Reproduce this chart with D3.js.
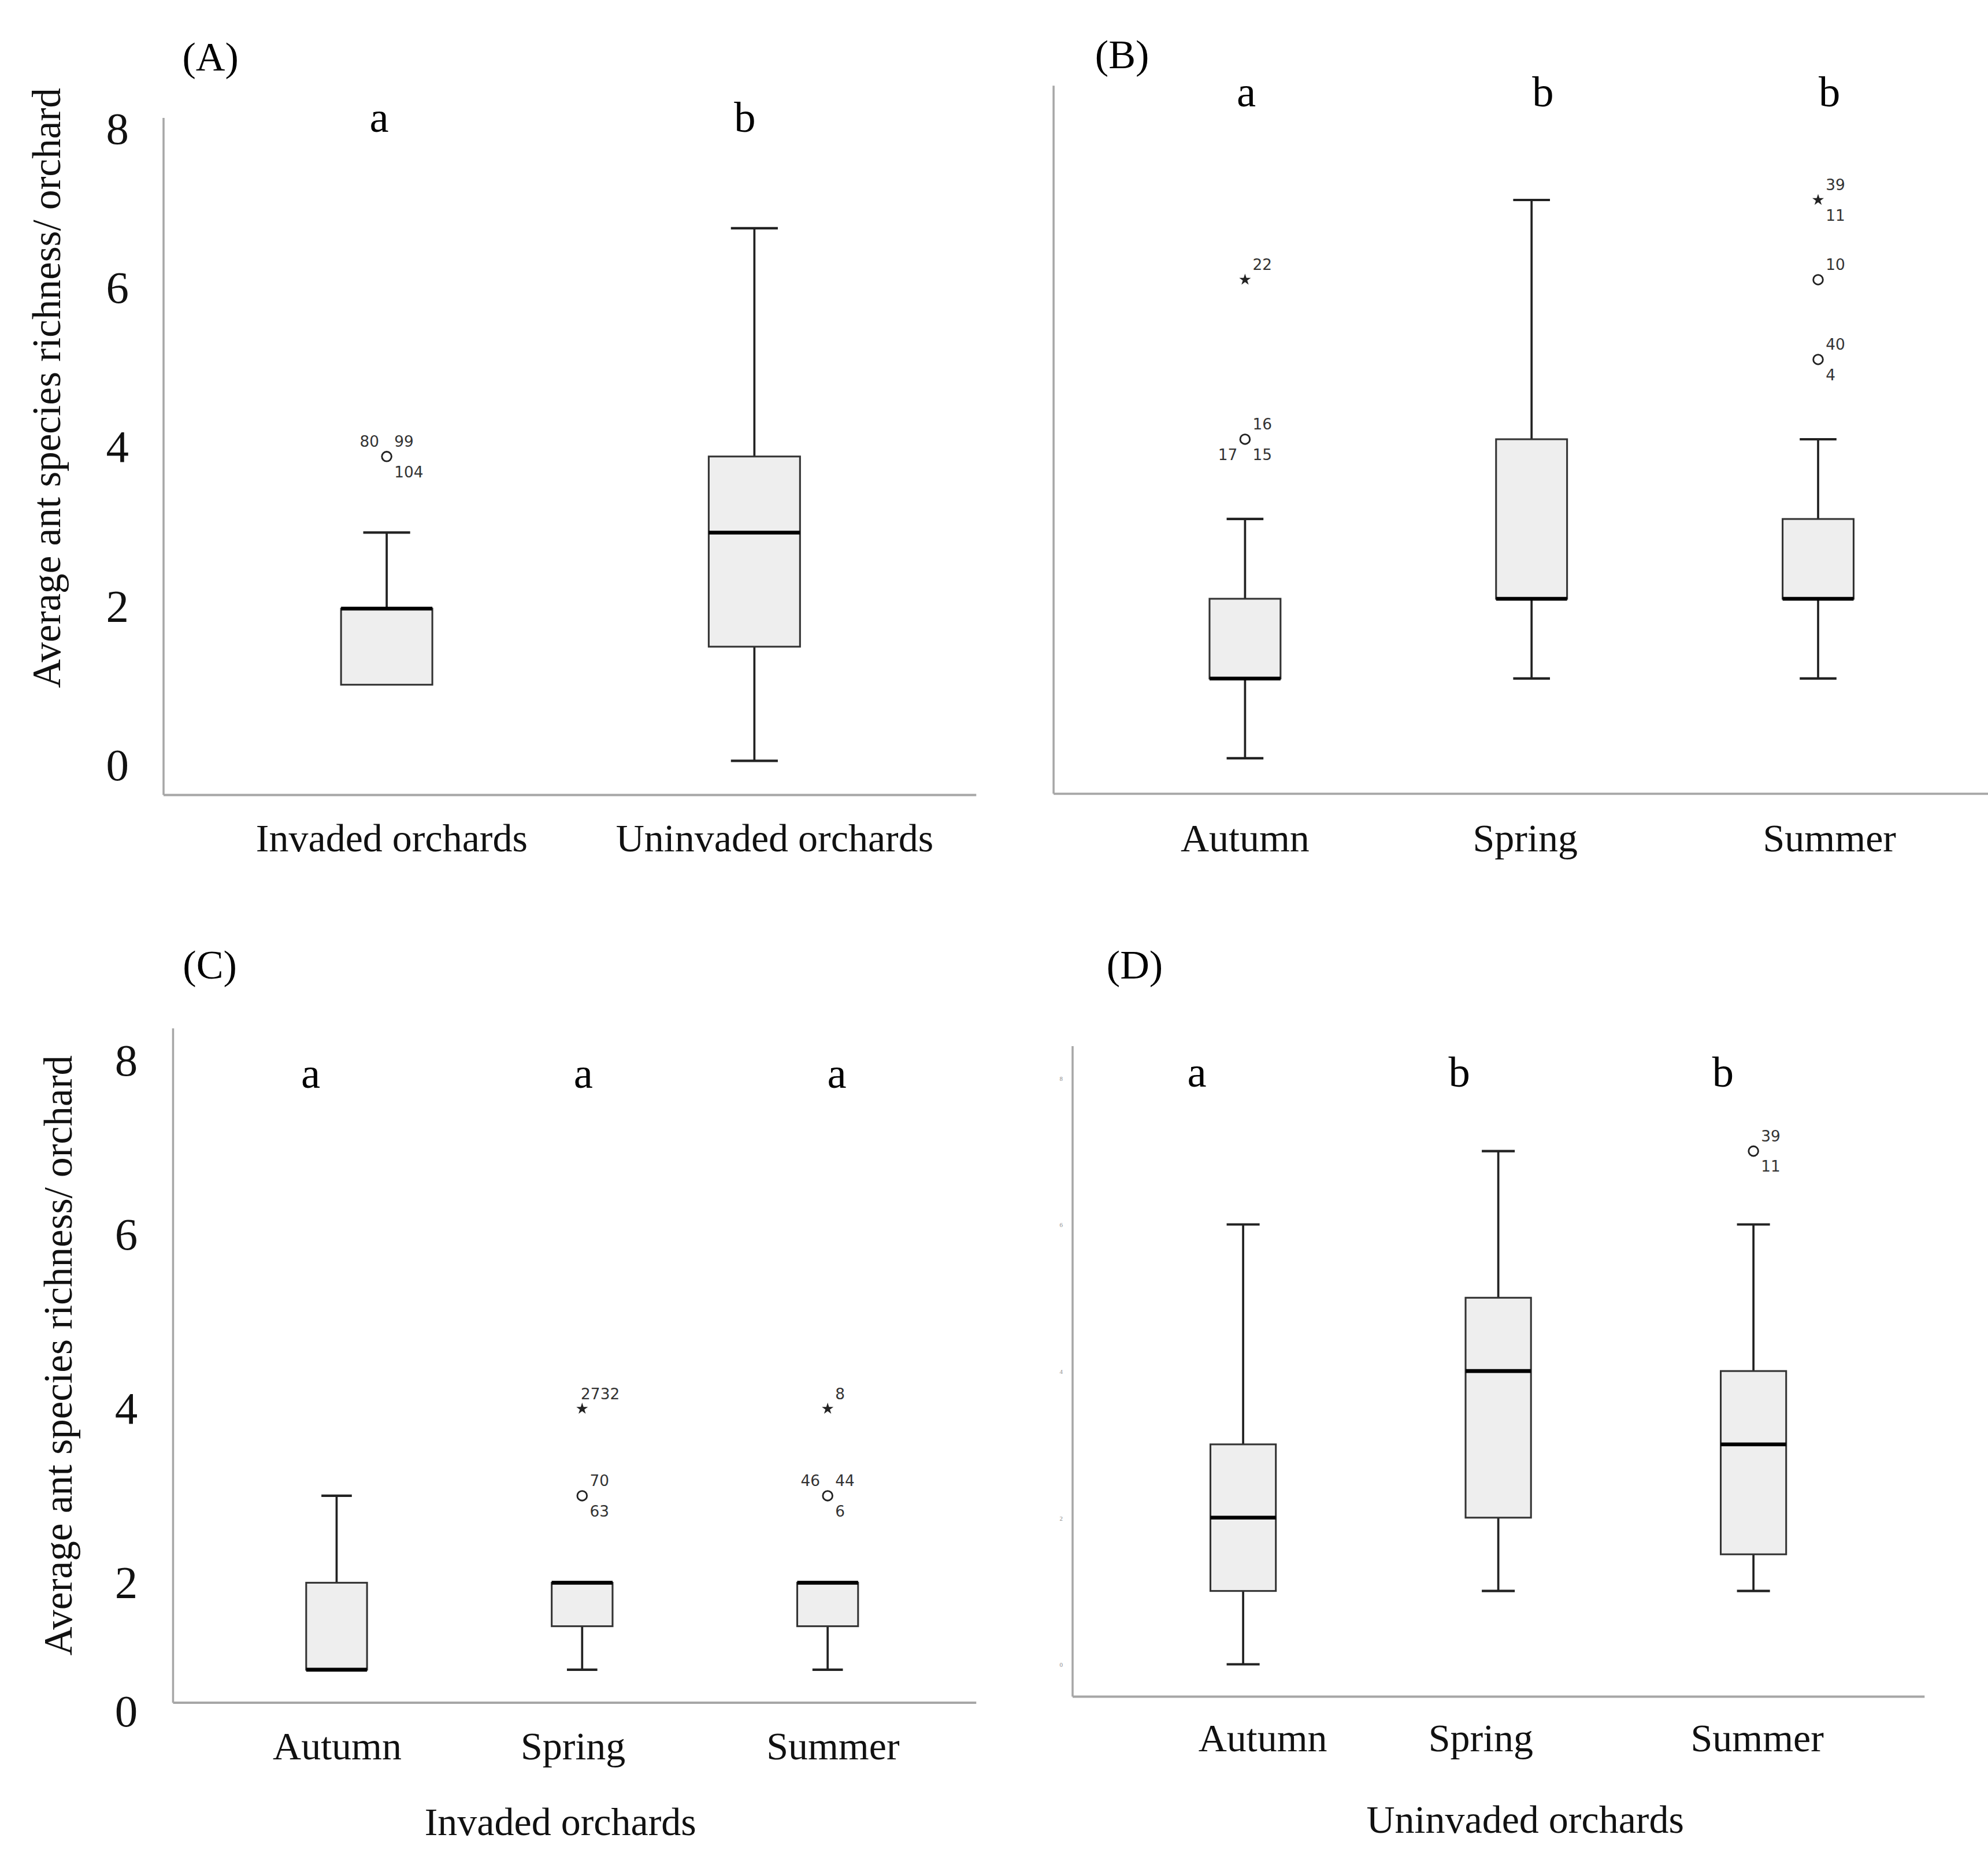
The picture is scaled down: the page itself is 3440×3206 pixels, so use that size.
<!DOCTYPE html>
<html>
<head>
<meta charset="utf-8">
<script src="https://cdn.jsdelivr.net/npm/d3@7"></script>
<style>
  body { margin: 0; background: #fff; }
  svg { display: block; }
</style>
</head>
<body>
<div id="chart"></div>
<script>

// ---- data ----
const orchardTypes = ["Invaded orchards", "Uninvaded orchards"]
const seasons = ["Autumn", "Spring", "Summer"]
const yTicks = [0, 2, 4, 6, 8]

// (A) invaded vs uninvaded
const aLow = [1, 0]
const aQ1 = [1, 1.5]
const aMedian = [2, 3]
const aQ3 = [2, 4]
const aHigh = [3, 7]
const aLetters = ["a", "b"]
const aOutliers = [
  { group: "Invaded orchards", value: 4, shape: "circle", ids: ["80", "99", "104"] }
]

// (B) all orchards by season
const bLow = [0, 1, 1]
const bQ1 = [1, 2, 2]
const bMedian = [1, 2, 2]
const bQ3 = [2, 4, 3]
const bHigh = [3, 7, 4]
const bLetters = ["a", "b", "b"]
const bOutliers = [
  { group: "Autumn", value: 4, shape: "circle", ids: ["16", "17", "15"] },
  { group: "Autumn", value: 6, shape: "star", ids: ["22"] },
  { group: "Summer", value: 5, shape: "circle", ids: ["40", "4"] },
  { group: "Summer", value: 6, shape: "circle", ids: ["10"] },
  { group: "Summer", value: 7, shape: "star", ids: ["39", "11"] }
]

// (C) invaded orchards by season
const cLow = [1, 1, 1]
const cQ1 = [1, 1.5, 1.5]
const cMedian = [1, 2, 2]
const cQ3 = [2, 2, 2]
const cHigh = [3, 2, 2]
const cLetters = ["a", "a", "a"]
const cOutliers = [
  { group: "Spring", value: 3, shape: "circle", ids: ["70", "63"] },
  { group: "Spring", value: 4, shape: "star", ids: ["27", "32"] },
  { group: "Summer", value: 3, shape: "circle", ids: ["46", "44", "6"] },
  { group: "Summer", value: 4, shape: "star", ids: ["8"] }
]

// (D) uninvaded orchards by season
const dLow = [0, 1, 1]
const dQ1 = [1, 2, 1.5]
const dMedian = [2, 4, 3]
const dQ3 = [3, 5, 4]
const dHigh = [6, 7, 6]
const dLetters = ["a", "b", "b"]
const dOutliers = [
  { group: "Summer", value: 7, shape: "circle", ids: ["39", "11"] }
]

// ---- layout (units of a 1568 wide frame, scaled to the page) ----
const W = 1568
const H = 3206 / (3440 / W)

const spots = {
  ur: { dx: 6, dy: -12, anchor: "start" },
  lr: { dx: 6, dy: 12, anchor: "start" },
  ul: { dx: -6, dy: -12, anchor: "end" },
  ll: { dx: -6, dy: 12, anchor: "end" },
  u: { dx: -1, dy: -12, anchor: "start" },
  u2: { dx: 14.3, dy: -12, anchor: "start" }
}

const panels = [
  {
    tag: "(A)", cats: orchardTypes,
    low: aLow, q1: aQ1, median: aMedian, q3: aQ3, high: aHigh,
    letters: aLetters, outliers: aOutliers,
    spots: [["ul", "ur", "lr"]],
    x0: 129, x1: 770, top: 93, bottom: 627,
    boxRange: [305, 595], boxW: 72, capW: 37,
    yRange: [600, 120], tickRange: [603, 101], tickX: 92.6, tickSize: 36,
    letterX: [299, 587.5], letterY: 97,
    labelX: [309, 611], labelY: 662,
    tagX: 166, tagY: 45,
    yTitle: true, yTitleX: 38, yTitleY: 306
  },
  {
    tag: "(B)", cats: seasons,
    low: bLow, q1: bQ1, median: bMedian, q3: bQ3, high: bHigh,
    letters: bLetters, outliers: bOutliers,
    spots: [["ur", "ll", "lr"], ["ur"], ["ur", "lr"], ["ur"], ["ur", "lr"]],
    x0: 831, x1: 1568, top: 67.6, bottom: 626,
    boxRange: [982, 1434], boxW: 56, capW: 29,
    yRange: [598, 94.8], tickX: null,
    letterX: [983, 1217, 1443], letterY: 77,
    labelX: [982, 1203, 1443], labelY: 662,
    tagX: 885, tagY: 43
  },
  {
    tag: "(C)", cats: seasons,
    low: cLow, q1: cQ1, median: cMedian, q3: cQ3, high: cHigh,
    letters: cLetters, outliers: cOutliers,
    spots: [["ur", "lr"], ["u", "u2"], ["ul", "ur", "lr"], ["ur"]],
    x0: 136.5, x1: 770, top: 811, bottom: 1342.8,
    boxRange: [265.5, 652.8], boxW: 48, capW: 24,
    yRange: [1385.4, 836.6], tickX: 99.6, tickSize: 36, tickClamp: true,
    letterX: [245, 460, 660], letterY: 851,
    labelX: [266, 452, 657], labelY: 1378,
    tagX: 165.5, tagY: 761,
    yTitle: true, yTitleX: 47, yTitleY: 1069,
    subtitle: "Invaded orchards", subX: 442, subY: 1438
  },
  {
    tag: "(D)", cats: seasons,
    low: dLow, q1: dQ1, median: dMedian, q3: dQ3, high: dHigh,
    letters: dLetters, outliers: dOutliers,
    spots: [["ur", "lr"]],
    x0: 846, x1: 1518, top: 825, bottom: 1338,
    boxRange: [980.5, 1383], boxW: 51.6, capW: 26,
    yRange: [1312.5, 850], tickX: 837, tickSize: 5, tickFaint: true,
    letterX: [944, 1151, 1359], letterY: 850,
    labelX: [996, 1168, 1386], labelY: 1372,
    tagX: 895, tagY: 761,
    subtitle: "Uninvaded orchards", subX: 1203, subY: 1436
  }
]

const serif = "'Liberation Serif', 'Times New Roman', serif"

const svg = d3.select("#chart")
  .append("svg")
    .attr("width", 3440)
    .attr("height", 3206)
    .attr("viewBox", `0 0 ${W} ${H}`)

svg.append("rect")
    .attr("width", W)
    .attr("height", H)
    .attr("fill", "#fff")

panels.forEach(drawPanel)

function drawPanel(p) {
  const g = svg.append("g")

  const x = d3.scalePoint().domain(p.cats).range(p.boxRange)
  const y = d3.scaleLinear().domain([0, 8]).range(p.yRange)
  const letterX = d3.scaleOrdinal().domain(p.cats).range(p.letterX)
  const labelX = d3.scaleOrdinal().domain(p.cats).range(p.labelX)

  // axis lines
  g.append("line")
      .attr("x1", p.x0).attr("x2", p.x0)
      .attr("y1", p.top).attr("y2", p.bottom)
      .attr("stroke", "#a6a6a6")
      .attr("stroke-width", 1.6)
  g.append("line")
      .attr("x1", p.x0).attr("x2", p.x1)
      .attr("y1", p.bottom).attr("y2", p.bottom)
      .attr("stroke", "#a6a6a6")
      .attr("stroke-width", 1.8)

  // tick labels
  if (p.tickX !== null) {
    const tickScale = p.tickRange ? d3.scaleLinear().domain([0, 8]).range(p.tickRange) : y
    const axis = g.append("g")
        .attr("transform", `translate(${p.tickX},0)`)
        .call(d3.axisLeft(tickScale).tickValues(yTicks).tickSize(0).tickPadding(0))
    axis.select(".domain").remove()
    if (p.tickClamp) {
      axis.selectAll(".tick")
          .attr("transform", d => `translate(0,${Math.min(tickScale(d), p.bottom + 6.8)})`)
    }
    axis.selectAll("text")
        .attr("x", 0)
        .attr("dy", "0.33em")
        .attr("text-anchor", "middle")
        .attr("font-family", serif)
        .attr("font-size", p.tickSize)
        .attr("fill", p.tickFaint ? "#8a8a8a" : "#111")
  }

  // boxes
  const rows = p.cats.map((c, i) => ({
    cat: c, low: p.low[i], q1: p.q1[i], median: p.median[i], q3: p.q3[i], high: p.high[i]
  }))

  const box = g.selectAll(".box")
    .data(rows)
    .enter().append("g")
      .attr("class", "box")

  box.filter(d => d.high > d.q3).append("line")
      .attr("x1", d => x(d.cat)).attr("x2", d => x(d.cat))
      .attr("y1", d => y(d.q3)).attr("y2", d => y(d.high))
      .attr("stroke", "#222").attr("stroke-width", 1.7)
  box.filter(d => d.high > d.q3).append("line")
      .attr("x1", d => x(d.cat) - p.capW / 2).attr("x2", d => x(d.cat) + p.capW / 2)
      .attr("y1", d => y(d.high)).attr("y2", d => y(d.high))
      .attr("stroke", "#222").attr("stroke-width", 1.9)
  box.filter(d => d.low < d.q1).append("line")
      .attr("x1", d => x(d.cat)).attr("x2", d => x(d.cat))
      .attr("y1", d => y(d.q1)).attr("y2", d => y(d.low))
      .attr("stroke", "#222").attr("stroke-width", 1.7)
  box.filter(d => d.low < d.q1).append("line")
      .attr("x1", d => x(d.cat) - p.capW / 2).attr("x2", d => x(d.cat) + p.capW / 2)
      .attr("y1", d => y(d.low)).attr("y2", d => y(d.low))
      .attr("stroke", "#222").attr("stroke-width", 1.9)

  box.append("rect")
      .attr("x", d => x(d.cat) - p.boxW / 2)
      .attr("y", d => y(d.q3))
      .attr("width", p.boxW)
      .attr("height", d => y(d.q1) - y(d.q3))
      .attr("fill", "#eeeeee")
      .attr("stroke", "#333")
      .attr("stroke-width", 1.4)

  box.append("line")
      .attr("x1", d => x(d.cat) - p.boxW / 2).attr("x2", d => x(d.cat) + p.boxW / 2)
      .attr("y1", d => y(d.median)).attr("y2", d => y(d.median))
      .attr("stroke", "#000")
      .attr("stroke-width", 3)

  // outliers
  const star = d3.symbol().type(d3.symbolStar).size(26)
  p.outliers.forEach((o, k) => {
    const cx = x(o.group), cy = y(o.value)
    if (o.shape === "circle") {
      g.append("circle")
          .attr("cx", cx).attr("cy", cy).attr("r", 3.8)
          .attr("fill", "none")
          .attr("stroke", "#222")
          .attr("stroke-width", 1.3)
    } else {
      g.append("path")
          .attr("d", star)
          .attr("transform", `translate(${cx},${cy})`)
          .attr("fill", "#222")
    }
    o.ids.forEach((id, j) => {
      const s = spots[p.spots[k][j]]
      g.append("text")
          .attr("x", cx + s.dx)
          .attr("y", cy + s.dy)
          .attr("dy", "0.36em")
          .attr("text-anchor", s.anchor)
          .attr("font-family", "'DejaVu Sans', sans-serif")
          .attr("font-size", 12)
          .attr("fill", "#333")
          .text(id)
    })
  })

  // significance letters
  g.selectAll(".letter")
    .data(p.cats)
    .enter().append("text")
      .attr("x", d => letterX(d))
      .attr("y", p.letterY)
      .attr("dy", "0.2em")
      .attr("text-anchor", "middle")
      .attr("font-family", serif)
      .attr("font-size", 34)
      .attr("fill", "#000")
      .text((d, i) => p.letters[i])

  // category labels
  g.selectAll(".cat")
    .data(p.cats)
    .enter().append("text")
      .attr("x", d => labelX(d))
      .attr("y", p.labelY)
      .attr("dy", "0.3em")
      .attr("text-anchor", "middle")
      .attr("font-family", serif)
      .attr("font-size", 31)
      .attr("fill", "#111")
      .text(d => d)

  // panel tag
  g.append("text")
      .attr("x", p.tagX)
      .attr("y", p.tagY)
      .attr("dy", "0.33em")
      .attr("text-anchor", "middle")
      .attr("font-family", serif)
      .attr("font-size", 32)
      .attr("fill", "#000")
      .text(p.tag)

  if (p.yTitle) {
    g.append("text")
        .attr("transform", `translate(${p.yTitleX},${p.yTitleY}) rotate(-90)`)
        .attr("dy", "0.3em")
        .attr("text-anchor", "middle")
        .attr("font-family", serif)
        .attr("font-size", 31.5)
        .attr("fill", "#111")
        .text("Average ant species richness/ orchard")
  }

  if (p.subtitle) {
    g.append("text")
        .attr("x", p.subX)
        .attr("y", p.subY)
        .attr("dy", "0.3em")
        .attr("text-anchor", "middle")
        .attr("font-family", serif)
        .attr("font-size", 31)
        .attr("fill", "#111")
        .text(p.subtitle)
  }
}
</script>
</body>
</html>
